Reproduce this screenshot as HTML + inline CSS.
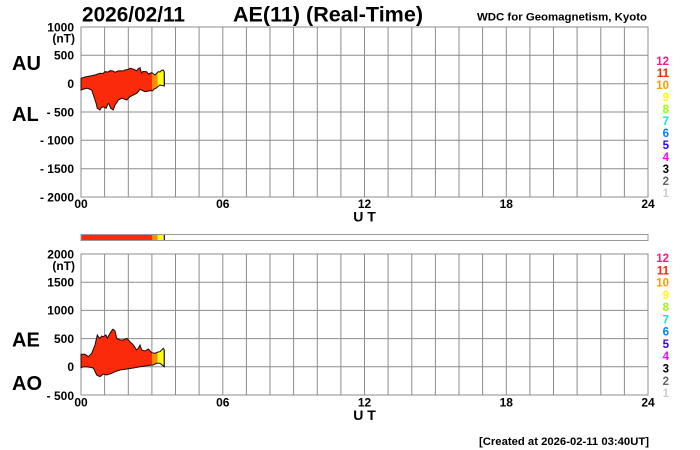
<!DOCTYPE html>
<html><head><meta charset="utf-8"><style>
html,body{margin:0;padding:0;background:#fff;}
svg{display:block;}
text{font-family:"Liberation Sans",Arial,sans-serif;font-weight:bold;}
</style></head><body>
<svg width="700" height="450" viewBox="0 0 700 450" xmlns="http://www.w3.org/2000/svg">
<defs>
<clipPath id="c1"><polygon points="81,78.3 85,77 90,76 95,75 100,73.3 103,73.5 105,71.7 108,72 110,70.7 113,71 115,72.3 118,71 120,70.7 123,71 125,70 128,69.5 130,68.3 133,69 136.7,70.7 138,69 140,67.7 141.5,73 143,71.5 146.7,71.7 148.3,74 151.7,72.7 153,73.5 155,75 157,73 158.3,71.7 160,72 161.5,70.5 163.3,70 164.3,72 164.5,84 164.3,86 160,85 158,86.5 156.5,88 154,89 152.7,90.7 150,90.7 145,91.7 140,89.3 138,92 136.7,93.3 133.3,95 130,96.7 126.7,100 123,98.5 121.7,98.3 118.3,100 116.5,103 115,105 113.3,110 110.7,108.3 109,104 108.3,103.3 106,108.3 103.3,106.7 101,108 100,110 97.3,108.3 96,103 95,100 93,94 91.7,90 88,88.5 86.7,88.3 84,89 81,90"/></clipPath>
<clipPath id="c2"><polygon points="81,354.3 85,354.3 88.3,356.7 91.7,353.3 95,345 97.3,335 98.5,337 100,338.3 101.7,336 103.3,336.7 106,335 107.3,338.3 110,333.3 112.7,329.3 114,330 115,331 116.7,338.3 120,340 123.3,340 126.7,338.3 130,341.7 133.3,345 136.7,350 138.5,348 140,345 141.7,350 145,351 148.3,349 151.7,352.7 155,353.3 158,352 160,351.7 163.3,348.3 164.3,350 164.3,366.7 160,363.3 156.7,363.3 153,365 151.7,365 146.7,365.7 140,366.7 133.3,368 126.7,369 120,370 115,371.7 111.7,373.3 106.7,375 103.3,374 100,376.7 96.7,375 93.3,368 88.3,367 84,366.7 81,367.7"/></clipPath>
</defs>

<!-- Header -->
<text x="82" y="21.5" font-size="21" textLength="103" lengthAdjust="spacingAndGlyphs">2026/02/11</text>
<text x="233" y="21.5" font-size="21" textLength="190" lengthAdjust="spacingAndGlyphs">AE(11) (Real-Time)</text>
<text x="477" y="20.5" font-size="11" textLength="170" lengthAdjust="spacingAndGlyphs">WDC for Geomagnetism, Kyoto</text>

<!-- Top plot grid -->
<g stroke="#8c8c8c" stroke-width="1" fill="none">
<rect x="81" y="27" width="567" height="170"/>
<path d="M104.6,27V197M128.3,27V197M151.9,27V197M175.5,27V197M199.1,27V197M222.8,27V197M246.4,27V197M270,27V197M293.6,27V197M317.3,27V197M340.9,27V197M364.5,27V197M388.1,27V197M411.8,27V197M435.4,27V197M459,27V197M482.6,27V197M506.3,27V197M529.9,27V197M553.5,27V197M577.1,27V197M600.8,27V197M624.4,27V197"/>
<path d="M81,55.3H648M81,83.7H648M81,112H648M81,140.3H648M81,168.7H648"/>
</g>
<g clip-path="url(#c1)">
<rect x="80" y="60" width="72" height="60" fill="#fa2a0a"/>
<rect x="152" y="60" width="5.7" height="60" fill="#ff8c00"/>
<rect x="157.7" y="60" width="6" height="60" fill="#ffff10"/>
<rect x="163.7" y="60" width="2" height="60" fill="#2a1aa0"/>
</g>
<polygon fill="none" stroke="#1a0a00" stroke-width="1" points="81,78.3 85,77 90,76 95,75 100,73.3 103,73.5 105,71.7 108,72 110,70.7 113,71 115,72.3 118,71 120,70.7 123,71 125,70 128,69.5 130,68.3 133,69 136.7,70.7 138,69 140,67.7 141.5,73 143,71.5 146.7,71.7 148.3,74 151.7,72.7 153,73.5 155,75 157,73 158.3,71.7 160,72 161.5,70.5 163.3,70 164.3,72 164.5,84 164.3,86 160,85 158,86.5 156.5,88 154,89 152.7,90.7 150,90.7 145,91.7 140,89.3 138,92 136.7,93.3 133.3,95 130,96.7 126.7,100 123,98.5 121.7,98.3 118.3,100 116.5,103 115,105 113.3,110 110.7,108.3 109,104 108.3,103.3 106,108.3 103.3,106.7 101,108 100,110 97.3,108.3 96,103 95,100 93,94 91.7,90 88,88.5 86.7,88.3 84,89 81,90"/>

<!-- Top y labels -->
<g font-size="12" text-anchor="end">
<text x="74" y="31.3">1000</text>
<text x="75" y="42.5">(nT)</text>
<text x="74" y="59.6">500</text>
<text x="74" y="88">0</text>
<text x="74" y="116.3">- 500</text>
<text x="74" y="144.6">- 1000</text>
<text x="74" y="173">- 1500</text>
<text x="74" y="201.3">- 2000</text>
</g>
<text x="12" y="70" font-size="20">AU</text>
<text x="12" y="121" font-size="20">AL</text>
<g font-size="12" text-anchor="middle">
<text x="81" y="208">00</text>
<text x="222.8" y="208">06</text>
<text x="364.5" y="208">12</text>
<text x="506.3" y="208">18</text>
<text x="648" y="208">24</text>
</g>
<text x="364.5" y="221.7" font-size="14" text-anchor="middle">U T</text>

<!-- Top legend -->
<g font-size="11.5" text-anchor="end">
<text x="669" y="65" fill="#ff1a80">12</text>
<text x="669" y="77" fill="#ff2200">11</text>
<text x="669" y="89" fill="#ff9900">10</text>
<text x="669" y="101" fill="#ffff00">9</text>
<text x="669" y="113" fill="#99ff00">8</text>
<text x="669" y="125" fill="#00f0c8">7</text>
<text x="669" y="137" fill="#0080ff">6</text>
<text x="669" y="149" fill="#3300ee">5</text>
<text x="669" y="161" fill="#ff00ff">4</text>
<text x="669" y="173" fill="#000000">3</text>
<text x="669" y="185" fill="#666666">2</text>
<text x="669" y="197" fill="#cccccc">1</text>
</g>

<!-- Middle bar -->
<rect x="81" y="234.5" width="567" height="6" fill="#fff" stroke="#999" stroke-width="1"/>
<rect x="81.5" y="235" width="70.5" height="5" fill="#fa2a0a"/>
<rect x="152" y="235" width="5.7" height="5" fill="#ff8c00"/>
<rect x="157.7" y="235" width="6" height="5" fill="#ffff10"/>
<rect x="163.7" y="235" width="1.3" height="5" fill="#2a1aa0"/>

<!-- Bottom plot grid -->
<g stroke="#8c8c8c" stroke-width="1" fill="none">
<rect x="81" y="254" width="567" height="141"/>
<path d="M104.6,254V395M128.3,254V395M151.9,254V395M175.5,254V395M199.1,254V395M222.8,254V395M246.4,254V395M270,254V395M293.6,254V395M317.3,254V395M340.9,254V395M364.5,254V395M388.1,254V395M411.8,254V395M435.4,254V395M459,254V395M482.6,254V395M506.3,254V395M529.9,254V395M553.5,254V395M577.1,254V395M600.8,254V395M624.4,254V395"/>
<path d="M81,282.2H648M81,310.4H648M81,338.6H648M81,366.8H648"/>
</g>
<g clip-path="url(#c2)">
<rect x="80" y="320" width="72" height="65" fill="#fa2a0a"/>
<rect x="152" y="320" width="5.7" height="65" fill="#ff8c00"/>
<rect x="157.7" y="320" width="6" height="65" fill="#ffff10"/>
<rect x="163.7" y="320" width="2" height="65" fill="#2a1aa0"/>
</g>
<polygon fill="none" stroke="#1a0a00" stroke-width="1" points="81,354.3 85,354.3 88.3,356.7 91.7,353.3 95,345 97.3,335 98.5,337 100,338.3 101.7,336 103.3,336.7 106,335 107.3,338.3 110,333.3 112.7,329.3 114,330 115,331 116.7,338.3 120,340 123.3,340 126.7,338.3 130,341.7 133.3,345 136.7,350 138.5,348 140,345 141.7,350 145,351 148.3,349 151.7,352.7 155,353.3 158,352 160,351.7 163.3,348.3 164.3,350 164.3,366.7 160,363.3 156.7,363.3 153,365 151.7,365 146.7,365.7 140,366.7 133.3,368 126.7,369 120,370 115,371.7 111.7,373.3 106.7,375 103.3,374 100,376.7 96.7,375 93.3,368 88.3,367 84,366.7 81,367.7"/>

<!-- Bottom y labels -->
<g font-size="12" text-anchor="end">
<text x="74" y="258.3">2000</text>
<text x="75" y="270">(nT)</text>
<text x="74" y="286.5">1500</text>
<text x="74" y="314.7">1000</text>
<text x="74" y="342.9">500</text>
<text x="74" y="371.1">0</text>
<text x="74" y="400">- 500</text>
</g>
<text x="12" y="346.7" font-size="20">AE</text>
<text x="12" y="390" font-size="20">AO</text>
<g font-size="12" text-anchor="middle">
<text x="81" y="406.5">00</text>
<text x="222.8" y="406.5">06</text>
<text x="364.5" y="406.5">12</text>
<text x="506.3" y="406.5">18</text>
<text x="648" y="406.5">24</text>
</g>
<text x="364.5" y="420" font-size="14" text-anchor="middle">U T</text>

<!-- Bottom legend -->
<g font-size="11.5" text-anchor="end">
<text x="669" y="262" fill="#ff1a80">12</text>
<text x="669" y="274.3" fill="#ff2200">11</text>
<text x="669" y="286.5" fill="#ff9900">10</text>
<text x="669" y="298.8" fill="#ffff00">9</text>
<text x="669" y="311" fill="#99ff00">8</text>
<text x="669" y="323.3" fill="#00f0c8">7</text>
<text x="669" y="335.6" fill="#0080ff">6</text>
<text x="669" y="347.9" fill="#3300ee">5</text>
<text x="669" y="360.2" fill="#ff00ff">4</text>
<text x="669" y="372.5" fill="#000000">3</text>
<text x="669" y="384.8" fill="#666666">2</text>
<text x="669" y="397" fill="#cccccc">1</text>
</g>

<!-- Footer -->
<text x="479" y="445" font-size="11" textLength="170" lengthAdjust="spacingAndGlyphs">[Created at 2026-02-11 03:40UT]</text>
</svg>
</body></html>
